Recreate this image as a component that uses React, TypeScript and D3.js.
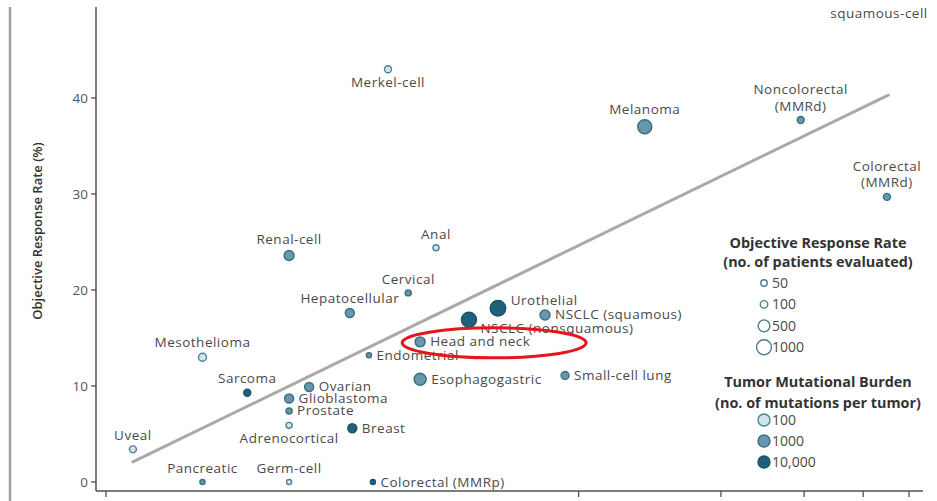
import React from 'react';
import * as d3 from 'd3';

// Cancer types with median coding mutations per megabase (x), objective response rate (y),
// number of patients evaluated (marker size) and mutations per tumor (marker colour).
const cancerTypes = [
  'Merkel-cell',
  'Melanoma',
  'Noncolorectal\n(MMRd)',
  'Colorectal\n(MMRd)',
  'Renal-cell',
  'Anal',
  'Cervical',
  'Hepatocellular',
  'Urothelial',
  'NSCLC (nonsquamous)',
  'NSCLC (squamous)',
  'Head and neck',
  'Endometrial',
  'Esophagogastric',
  'Small-cell lung',
  'Mesothelioma',
  'Sarcoma',
  'Ovarian',
  'Glioblastoma',
  'Prostate',
  'Adrenocortical',
  'Breast',
  'Uveal',
  'Pancreatic',
  'Germ-cell',
  'Colorectal (MMRp)',
  'Cutaneous\nsquamous-cell',
];

const mutationsPerMb = [
  3.95, 13.8, 29.5, 44.9, 2.44, 4.99, 4.36, 3.28, 6.75, 5.86, 8.49, 4.62, 3.6, 4.62,
  9.36, 1.6, 1.99, 2.69, 2.44, 2.44, 2.44, 3.32, 1.14, 1.6, 2.44, 3.67, 43.2,
];

const responseRate = [
  43.0, 37.0, 37.7, 29.7, 23.6, 24.4, 19.7, 17.6, 18.1, 16.9, 17.4, 14.6, 13.2, 10.7,
  11.1, 13.0, 9.3, 9.9, 8.7, 7.4, 5.9, 5.6, 3.4, 0, 0, 0, 52,
];

const patientsEvaluated = [
  75, 830, 75, 75, 300, 35, 35, 210, 1100, 1000, 300, 300, 10, 530, 130, 130, 75, 210,
  210, 35, 35, 210, 75, 10, 10, 10, 130,
];

const mutationsPerTumor = [
  100, 1000, 1000, 1000, 1000, 100, 1000, 1000, 10000, 10000, 1000, 1000, 1000, 1000,
  1000, 100, 10000, 1000, 1000, 1000, 100, 10000, 100, 1000, 100, 10000, 10000,
];

// Where each name sits relative to its marker
const labelPlacement = [
  'below', 'above', 'above', 'above', 'above', 'above', 'above', 'above', 'right-up',
  'right-down', 'right', 'right', 'right', 'right', 'right', 'above', 'above', 'right',
  'right', 'right', 'below', 'right', 'above', 'above', 'above', 'right', 'below',
];

// Fitted trend (log-linear) endpoints
const trendX = [1.14, 45.2];
const trendY = [2.1, 40.3];

const yTicks = [0, 10, 20, 30, 40];
const xTicks = [1, 10, 20, 30, 40, 50];
const sizeLegendValues = [50, 100, 500, 1000];
const burdenLegendValues = [100, 1000, 10000];
const highlighted = 'Head and neck';

const W = 937;
const H = 501;
const FONT = "'Open Sans', 'Noto Sans', sans-serif";
const TEXT = '#4a4a4a';

export default function App() {
  const x = d3.scaleLog().domain([1, 50]).range([106, 909]);
  const y = d3.scaleLinear().domain([0, 40]).range([482, 98]);
  const r = d3.scaleSqrt().domain([0, 1000]).range([2, 7.5]);
  const fill = d3
    .scaleLog<string>()
    .domain([100, 1000, 10000])
    .range(['#d0e5eb', '#6797ab', '#1f617a']);
  const edge = d3
    .scaleLog<string>()
    .domain([100, 1000, 10000])
    .range(['#4a8294', '#3a6e82', '#1a5467']);

  const axisLeft = 96;
  const axisBottom = 491;
  const topEdge = 7;

  const points = cancerTypes.map((name, i) => ({
    name,
    cx: x(mutationsPerMb[i]),
    cy: y(responseRate[i]),
    r: r(patientsEvaluated[i]),
    fill: fill(mutationsPerTumor[i]),
    stroke: edge(mutationsPerTumor[i]),
    place: labelPlacement[i],
  }));

  const lineH = 16.5;
  const labelLines = (p: (typeof points)[number]) => {
    const lines = p.name.split('\n');
    return lines.map((t, k) => {
      switch (p.place) {
        case 'above':
          return { t, x: p.cx, y: p.cy - p.r - 6 - (lines.length - 1 - k) * lineH, anchor: 'middle' };
        case 'below':
          return { t, x: p.cx, y: p.cy + p.r + 14.5 + k * lineH, anchor: 'middle' };
        case 'right-up':
          return { t, x: p.cx + p.r + 5, y: p.cy - 3.5, anchor: 'start' };
        case 'right-down':
          return { t, x: p.cx + p.r + 4, y: p.cy + 13.5, anchor: 'start' };
        default:
          return { t, x: p.cx + p.r + 5, y: p.cy + 4.5, anchor: 'start' };
      }
    });
  };

  const trend = d3
    .line<number>()
    .x((_, i) => x(trendX[i]))
    .y((d) => y(d));

  const hl = points.find((p) => p.name === highlighted)!;

  const legendCenter = 818;
  const legendMarkX = 764;

  return (
    <svg
      width={W}
      height={H}
      viewBox={`0 0 ${W} ${H}`}
      style={{ position: 'absolute', left: 0, top: 0, display: 'block', background: '#fff' }}
      fontFamily={FONT}
    >
      <defs>
        <clipPath id="plotClip">
          <rect x={0} y={topEdge} width={W} height={H - topEdge} />
        </clipPath>
      </defs>

      {/* page frame edge */}
      <line x1={10} x2={10} y1={topEdge} y2={H} stroke="#a0a0a0" strokeWidth={2.5} />

      {/* axes */}
      <line x1={axisLeft} x2={axisLeft} y1={topEdge} y2={axisBottom} stroke="#505050" strokeWidth={1.5} />
      <line x1={axisLeft} x2={923} y1={axisBottom} y2={axisBottom} stroke="#505050" strokeWidth={1.5} />
      {yTicks.map((t) => (
        <g key={`y${t}`} transform={`translate(${axisLeft},${y(t)})`}>
          <line x1={-5} x2={0} stroke="#505050" strokeWidth={1.3} />
          <text x={-8} dy="0.34em" textAnchor="end" fontSize={13.5} fill="#555">
            {t}
          </text>
        </g>
      ))}
      {xTicks.map((t) => (
        <line
          key={`x${t}`}
          x1={x(t)}
          x2={x(t)}
          y1={axisBottom}
          y2={axisBottom + 6}
          stroke="#505050"
          strokeWidth={1.3}
        />
      ))}
      <text
        transform={`translate(38,231) rotate(-90)`}
        textAnchor="middle"
        dy="0.34em"
        fontSize={13}
        fontWeight={600}
        fill="#333"
      >
        Objective Response Rate (%)
      </text>

      <g clipPath="url(#plotClip)">
        <path
          d={trend(trendY) || ''}
          fill="none"
          stroke="#a9a9a9"
          strokeWidth={3}
          strokeLinecap="round"
        />
        {points.map((p) => (
          <circle key={p.name} cx={p.cx} cy={p.cy} r={p.r} fill={p.fill} stroke={p.stroke} strokeWidth={1.4} />
        ))}
        {points.map((p) =>
          labelLines(p).map((l, k) => (
            <text
              key={`${p.name}-${k}`}
              x={l.x}
              y={l.y}
              textAnchor={l.anchor as any}
              fontSize={13.5}
              letterSpacing={0.5}
              fill={TEXT}
            >
              {l.t}
            </text>
          ))
        )}
      </g>

      {/* highlight around one label */}
      <ellipse cx={hl.cx + 74} cy={hl.cy + 1} rx={92} ry={15} fill="none" stroke="#e8141c" strokeWidth={3} />

      {/* size legend */}
      <g>
        <text x={legendCenter} y={248} textAnchor="middle" fontSize={14.4} fontWeight={700} fill="#333">
          Objective Response Rate
        </text>
        <text x={legendCenter} y={267} textAnchor="middle" fontSize={14.4} fontWeight={700} fill="#333">
          (no. of patients evaluated)
        </text>
        {sizeLegendValues.map((v, i) => {
          const cy = 283 + i * 21.4;
          return (
            <g key={`s${v}`}>
              <circle cx={legendMarkX} cy={cy} r={r(v)} fill="#fff" stroke="#4a7d8f" strokeWidth={1.4} />
              <text x={772} y={cy + 5} fontSize={14} fill={TEXT}>
                {v}
              </text>
            </g>
          );
        })}

        <text x={legendCenter} y={387} textAnchor="middle" fontSize={14.4} fontWeight={700} fill="#333">
          Tumor Mutational Burden
        </text>
        <text x={legendCenter} y={408} textAnchor="middle" fontSize={14.4} fontWeight={700} fill="#333">
          (no. of mutations per tumor)
        </text>
        {burdenLegendValues.map((v, i) => {
          const cy = 420 + i * 21;
          return (
            <g key={`b${v}`}>
              <circle cx={legendMarkX} cy={cy} r={6} fill={fill(v)} stroke={edge(v)} strokeWidth={1.4} />
              <text x={772} y={cy + 5} fontSize={14} fill={TEXT}>
                {d3.format(v >= 10000 ? ',' : 'd')(v)}
              </text>
            </g>
          );
        })}
      </g>
    </svg>
  );
}
